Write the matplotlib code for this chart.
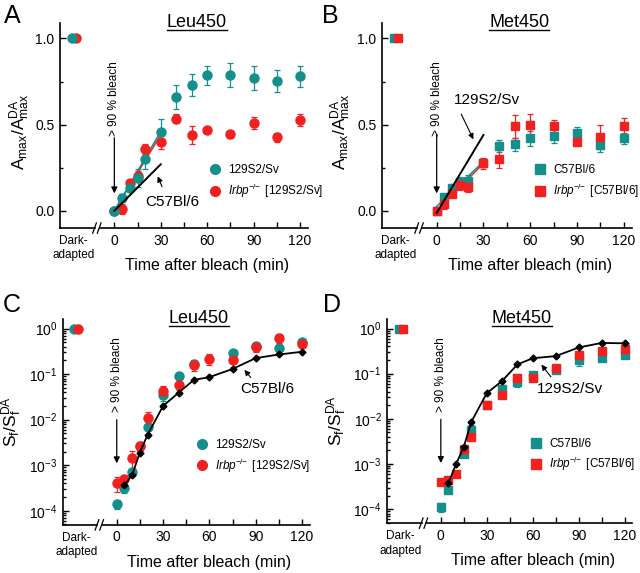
import numpy as np
import matplotlib
matplotlib.use('Agg')
import matplotlib.pyplot as plt
from matplotlib.lines import Line2D
import matplotlib.transforms as mtransforms

plt.rcParams['font.family'] = ['Liberation Sans', 'DejaVu Sans']
plt.rcParams['mathtext.fontset'] = 'custom'
plt.rcParams['mathtext.rm'] = 'Liberation Sans'
plt.rcParams['mathtext.it'] = 'Liberation Sans:italic'
plt.rcParams['mathtext.bf'] = 'Liberation Sans:bold'

TEAL = '#14908c'
RED = '#f2201e'

# time after bleach (min)
t = [0, 5, 10, 15, 20, 30, 40, 50, 60, 75, 90, 105, 120]
t_black = [5, 10, 15, 20, 30, 40, 50, 60, 75, 90, 105, 120]
t_fit = [0, 30]
dark_teal_x = -27.5
dark_red_x = -25.0
dark_val = 1.0

# Panel A: Leu450, Amax/AmaxDA
a_teal = [0.0, 0.077, 0.13, 0.19, 0.30, 0.46, 0.66, 0.73, 0.786, 0.786, 0.77, 0.753, 0.78]
a_teal_err = [0.0, 0.02, 0.02, 0.05, 0.06, 0.07, 0.07, 0.065, 0.055, 0.07, 0.07, 0.065, 0.06]
a_red = [0.0, 0.01, 0.16, 0.20, 0.357, 0.40, 0.535, 0.44, 0.468, 0.443, 0.51, 0.426, 0.526]
a_red_err = [0.0, 0.03, 0.02, 0.03, 0.03, 0.04, 0.025, 0.05, 0.01, 0.02, 0.035, 0.025, 0.035]
a_teal_fit = [0.0, 0.46]
a_red_fit = [0.0, 0.44]
a_black_fit = [0.0, 0.27]

# Panel B: Met450, Amax/AmaxDA
b_teal = [0.0, 0.08, 0.135, 0.165, 0.175, 0.28, 0.375, 0.385, 0.42, 0.435, 0.45, 0.38, 0.42]
b_teal_err = [0.0, 0.02, 0.02, 0.03, 0.03, 0.02, 0.035, 0.04, 0.045, 0.04, 0.035, 0.04, 0.03]
b_red = [0.0, 0.04, 0.10, 0.15, 0.14, 0.275, 0.30, 0.49, 0.50, 0.49, 0.40, 0.43, 0.49]
b_red_err = [0.0, 0.03, 0.02, 0.03, 0.03, 0.03, 0.05, 0.065, 0.06, 0.035, 0.02, 0.07, 0.05]
b_teal_fit = [0.025, 0.285]
b_red_fit = [0.0, 0.275]
b_black_fit = [-0.012, 0.44]

# Panel C: Leu450, Sf/SfDA
c_teal = [1.4e-4, 3.1e-4, 7.0e-4, 2.6e-3, 6.9e-3, 0.034, 0.089, 0.17, np.nan, 0.29, 0.41, 0.38, 0.52]
c_teal_err = [3e-5, 6e-5, 1e-4, 5e-4, 1e-3, 8e-3, 1e-2, 0.02, np.nan, 0.03, 0.05, 0.04, 0.05]
c_red = [4.1e-4, 5.0e-4, 1.45e-3, 2.6e-3, 1.1e-2, 0.042, 0.059, 0.16, 0.22, 0.20, 0.39, 0.62, 0.47]
c_red_err = [1.5e-4, 1.2e-4, 6e-4, 5e-4, 3.5e-3, 0.012, 0.015, 0.04, 0.06, 0.06, 0.08, 0.14, 0.08]
c_black = [3.6e-4, 6.2e-4, 1.9e-3, 4.7e-3, 0.020, 0.039, 0.075, 0.086, 0.13, 0.225, 0.27, 0.31]

# Panel D: Met450, Sf/SfDA
d_teal = [1.1e-4, 2.6e-4, np.nan, 1.7e-3, 5.7e-3, 0.020, 0.046, 0.065, 0.092, 0.12, 0.20, 0.22, 0.26]
d_teal_err = [2.5e-5, 3e-5, np.nan, 3e-4, 1.5e-3, 2e-3, 0.01, 0.015, 0.015, 0.015, 0.05, 0.03, 0.04]
d_red = [3.9e-4, 4.5e-4, 6.1e-4, 2.1e-3, 3.9e-3, 0.020, 0.033, 0.080, 0.082, 0.134, 0.26, 0.32, 0.35]
d_red_err = [3e-5, 4e-5, 6e-5, 3e-4, 5e-4, 2e-3, 3e-3, 0.02, 0.01, 0.015, 0.03, 0.03, 0.04]
d_black = [3.8e-4, 1.0e-3, 2.4e-3, 8.7e-3, 0.037, 0.069, 0.16, 0.22, 0.245, 0.38, 0.48, 0.47]

lab_sv = '129S2/Sv'
lab_bl = 'C57Bl/6'
lab_irbp_sv = r'$\mathit{Irbp}^{-\!/\!-}$ [129S2/Sv]'
lab_irbp_bl = r'$\mathit{Irbp}^{-\!/\!-}$ [C57Bl/6]'

XMIN, XMAX, XBREAK = -35, 125, -11

fig = plt.figure(figsize=(6.4, 5.73), dpi=100)
axA = fig.add_axes([0.094, 0.602, 0.387, 0.358])
axB = fig.add_axes([0.597, 0.602, 0.390, 0.358])
axC = fig.add_axes([0.098, 0.084, 0.386, 0.360])
axD = fig.add_axes([0.605, 0.087, 0.383, 0.357])


def style_axes(ax):
    ax.set_xlim(XMIN, XMAX)
    for s in ['top', 'right']:
        ax.spines[s].set_visible(False)
    ax.spines['left'].set_linewidth(1.2)
    ax.spines['bottom'].set_linewidth(1.2)
    ax.spines['bottom'].set_bounds(XBREAK + 1.5, XMAX)
    ax.set_xticks([0, 30, 60, 90, 120])
    ax.set_xticks([15, 45, 75, 105], minor=True)
    ax.tick_params(direction='in', length=4, width=1, labelsize=10, pad=4)
    ax.tick_params(which='minor', direction='in', length=4, width=1)
    ax.tick_params(axis='y', which='minor', length=2.5)
    # left piece of the broken x axis
    trans = mtransforms.blended_transform_factory(ax.transData, ax.transAxes)
    ax.add_line(Line2D([XMIN, XBREAK - 1.5], [0, 0], transform=trans, color='k',
                       lw=1.2, clip_on=False))
    for dx in (-1.8, 1.2):
        ax.add_line(Line2D([XBREAK + dx - 1.2, XBREAK + dx + 1.2], [-0.025, 0.025],
                           transform=trans, color='k', lw=0.9, clip_on=False))
    ax.text((dark_teal_x + dark_red_x) / 2, -0.035, 'Dark-\nadapted', transform=trans,
            ha='center', va='top', fontsize=8.5, linespacing=1.25)
    xc = (60 - XMIN) / (XMAX - XMIN)
    ax.set_xlabel('Time after bleach (min)', fontsize=11.5)
    ax.xaxis.set_label_coords(xc, -0.145)


def log_y(ax):
    ax.set_yscale('log')
    ax.set_ylim(10 ** -4.31, 10 ** 0.22)
    ax.set_yticks([1e-4, 1e-3, 1e-2, 1e-1, 1e0])
    ax.yaxis.set_minor_locator(matplotlib.ticker.LogLocator(base=10, subs=np.arange(2, 10)))
    ax.yaxis.set_minor_formatter(matplotlib.ticker.NullFormatter())
    ax.tick_params(axis='y', which='minor', direction='in', length=2.5)


def lin_y(ax):
    ax.set_ylim(-0.1, 1.09)
    ax.set_yticks([0.0, 0.5, 1.0])
    ax.set_yticks([0.25, 0.75], minor=True)
    ax.yaxis.set_major_formatter(matplotlib.ticker.FormatStrFormatter('%.1f'))


def bleach_arrow(ax, y_head, y_tail, y_text):
    ax.annotate('', xy=(0, y_head), xytext=(0, y_tail),
                arrowprops=dict(arrowstyle='-|>', color='k', lw=0.9, mutation_scale=9))
    ax.text(0, y_text, '> 90 % bleach', rotation=90, ha='center', va='center', fontsize=8.5)


def label_arrow(ax, text, xy_tip, xy_tail, xy_text):
    ax.annotate('', xy=xy_tip, xytext=xy_tail,
                arrowprops=dict(arrowstyle='-|>', color='k', lw=0.8, mutation_scale=8))
    ax.text(xy_text[0], xy_text[1], text, ha='center', va='center', fontsize=11)


def points(ax, x, y, err, color, marker, ms, dx):
    ax.errorbar(x, y, yerr=err, fmt=marker, color=color, ms=ms, mec=color, ecolor=color,
                elinewidth=0.9, capsize=2.2, capthick=0.9, zorder=3)
    ax.plot([dx], [dark_val], marker=marker, color=color, ms=ms, ls='none', zorder=3)


def title(ax, s, xc):
    ax.text(xc, 1.0, s, transform=ax.transAxes, ha='center', va='center', fontsize=13)


def legend(ax, marker, ms, labels, x, y):
    handles = [Line2D([], [], marker=marker, color=c, ms=ms, ls='none') for c in (TEAL, RED)]
    ax.legend(handles, labels, loc='center left', bbox_to_anchor=(x, y), frameon=False,
              fontsize=8.5, handlelength=1.0, handletextpad=0.6, labelspacing=0.45,
              borderpad=0, borderaxespad=0, numpoints=1)


# ---- A ----
ax = axA
style_axes(ax)
lin_y(ax)
ax.plot(t_fit, a_red_fit, color=RED, lw=1.0, zorder=2)
ax.plot(t_fit, a_teal_fit, color=TEAL, lw=1.2, zorder=2)
ax.plot(t_fit, a_black_fit, color='k', lw=1.4, zorder=4)
points(ax, t, a_red, a_red_err, RED, 'o', 6.5, dark_red_x)
points(ax, t, a_teal, a_teal_err, TEAL, 'o', 6.5, dark_teal_x)
legend(ax, 'o', 7, [lab_sv, lab_irbp_sv], 0.6, 0.225)
bleach_arrow(ax, 0.085, 0.44, 0.65)
label_arrow(ax, 'C57Bl/6', (27.3, 0.215), (31.5, 0.125), (37.5, 0.05))
ax.set_ylabel(r'$\mathrm{A_{max}/A_{max}^{DA}}$', fontsize=12.5)
ax.yaxis.set_label_coords(-0.115, 0.47)
title(ax, 'Leu450', 0.552)

# ---- B ----
ax = axB
style_axes(ax)
lin_y(ax)
ax.plot(t_fit, b_teal_fit, color=TEAL, lw=1.2, zorder=2)
ax.plot(t_fit, b_red_fit, color=RED, lw=1.0, zorder=2)
ax.plot(t_fit, b_black_fit, color='k', lw=1.4, zorder=4)
points(ax, t, b_teal, b_teal_err, TEAL, 's', 6, dark_teal_x)
points(ax, t, b_red, b_red_err, RED, 's', 6, dark_red_x)
legend(ax, 's', 6.5, [lab_bl, lab_irbp_bl], 0.61, 0.225)
bleach_arrow(ax, 0.085, 0.46, 0.65)
label_arrow(ax, '129S2/Sv', (24.3, 0.40), (15.0, 0.575), (32.0, 0.64))
ax.set_ylabel(r'$\mathrm{A_{max}/A_{max}^{DA}}$', fontsize=12.5)
ax.yaxis.set_label_coords(-0.115, 0.47)
title(ax, 'Met450', 0.55)

# ---- C ----
ax = axC
style_axes(ax)
log_y(ax)
ax.plot(t_black, c_black, color='k', lw=1.3, marker='D', ms=3.5, zorder=4)
points(ax, t, c_teal, c_teal_err, TEAL, 'o', 6.5, dark_teal_x)
points(ax, t, c_red, c_red_err, RED, 'o', 6.5, dark_red_x)
legend(ax, 'o', 7, [lab_sv, lab_irbp_sv], 0.54, 0.33)
bleach_arrow(ax, 10 ** -3.02, 10 ** -1.94, 10 ** -1.02)
label_arrow(ax, 'C57Bl/6', (81.5, 10 ** -0.86), (88.0, 10 ** -1.12), (97.5, 10 ** -1.33))
ax.set_ylabel(r'$\mathrm{S_f/S_f^{DA}}$', fontsize=12.5)
ax.yaxis.set_label_coords(-0.155, 0.5)
title(ax, 'Leu450', 0.55)

# ---- D ----
ax = axD
style_axes(ax)
log_y(ax)
ax.plot(t_black, d_black, color='k', lw=1.3, marker='D', ms=3.5, zorder=4)
points(ax, t, d_teal, d_teal_err, TEAL, 's', 6, dark_teal_x)
points(ax, t, d_red, d_red_err, RED, 's', 6, dark_red_x)
legend(ax, 's', 6.5, [lab_bl, lab_irbp_bl], 0.585, 0.33)
bleach_arrow(ax, 10 ** -3.04, 10 ** -1.95, 10 ** -1.02)
label_arrow(ax, '129S2/Sv', (64.5, 10 ** -0.75), (73.0, 10 ** -1.12), (84.5, 10 ** -1.33))
ax.set_ylabel(r'$\mathrm{S_f/S_f^{DA}}$', fontsize=12.5)
ax.yaxis.set_label_coords(-0.155, 0.5)
title(ax, 'Met450', 0.55)

# panel letters
for s, x, y in [('A', 0.019, 0.972), ('B', 0.516, 0.972), ('C', 0.019, 0.468), ('D', 0.519, 0.468)]:
    fig.text(x, y, s, ha='center', va='center', fontsize=18)

# underline the titles
fig.canvas.draw()
renderer = fig.canvas.get_renderer()
inv = fig.transFigure.inverted()
for txt in [a for a in fig.findobj(matplotlib.text.Text) if a.get_text() in ('Leu450', 'Met450')]:
    bb = txt.get_window_extent(renderer)
    (x0, y0), (x1, y1) = inv.transform([[bb.x0, bb.y0], [bb.x1, bb.y1]])
    fig.add_artist(Line2D([x0, x1], [y0 + 0.002, y0 + 0.002], transform=fig.transFigure,
                          color='k', lw=1.0))

fig.savefig('out.png', dpi=100)
